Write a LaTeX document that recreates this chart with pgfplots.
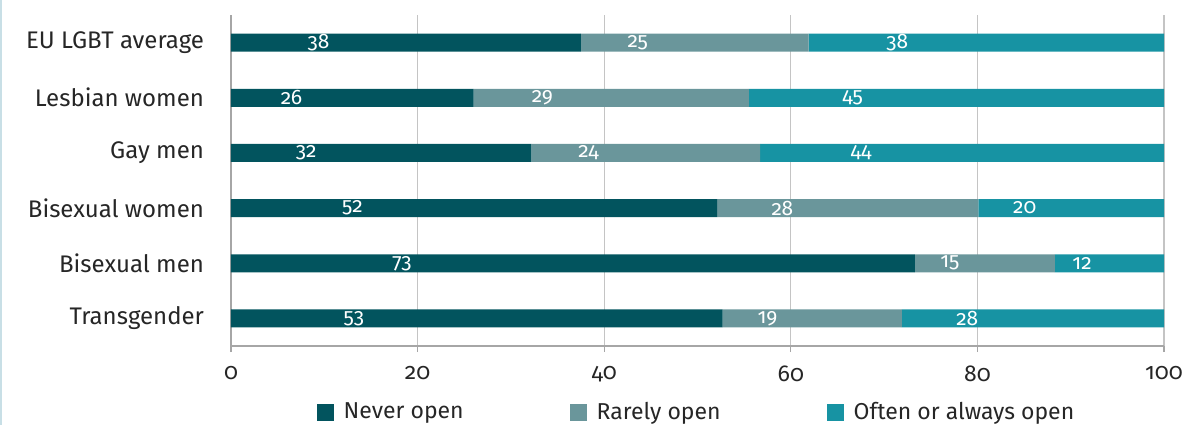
\documentclass[border=0pt]{standalone}
\usepackage{pgfplots}
\pgfplotsset{compat=1.18}
\usepackage{pgfplotstable}
\usepackage{fontspec}
\setmainfont{Fira Sans}[Numbers=OldStyle]
\definecolor{cNever}{HTML}{02545E}
\definecolor{cRare}{HTML}{6A969B}
\definecolor{cOften}{HTML}{1793A3}
\definecolor{cGrid}{HTML}{C4C4C4}
\definecolor{cAxis}{HTML}{A6A6A6}
\definecolor{cText}{HTML}{262626}
\definecolor{cBorder}{HTML}{C8DFE6}
\pgfplotstableread{
y n nl r rl o ol
0 37.5 38 24.4 25 38.1 38
1 26.0 26 29.5 29 44.5 45
2 32.2 32 24.5 24 43.3 44
3 52.1 52 28.0 28 19.9 20
4 73.3 73 15.0 15 11.7 12
5 52.7 53 19.2 19 28.1 28
}\data
\begin{document}
\begin{tikzpicture}
\useasboundingbox (0,0) rectangle (595.5pt,212.5pt);
\fill[cBorder] (0,0) rectangle (1.2pt,212.5pt);
\begin{axis}[
  at={(115.5pt,39.5pt)}, anchor=south west,
  width=466.5pt, height=165.5pt, scale only axis,
  xbar stacked, bar width=9pt,
  xmin=0, xmax=100, ymin=-0.5, ymax=5.5, y dir=reverse,
  axis lines*=left, axis line style={cAxis, line width=0.6pt},
  xtick={0,20,...,100}, xmajorgrids,
  grid style={cGrid, line width=0.6pt},
  tick align=outside, major tick length=3pt,
  xtick style={cAxis, line width=0.6pt},
  ytick={0,...,5},
  yticklabels={EU LGBT average, Lesbian women, Gay men, Bisexual women, Bisexual men, Transgender},
  ytick style={draw=none},
  extra y ticks={-0.5,0.5,...,5.5},
  extra y tick labels={},
  extra y tick style={major tick length=5pt, tick style={draw=cAxis, line width=0.6pt}},
  /pgf/number format/assume math mode=true,
  yticklabel style={font=\fontsize{12}{14}\selectfont, text=cText, xshift=-7pt},
  xticklabel style={font=\fontsize{11.5}{14}\selectfont, text=cText, yshift=-3.5pt},
  legend columns=3,
  legend style={draw=none, fill=none, at={(0.5,0)}, anchor=center, yshift=-33pt,
    font=\fontsize{11.5}{14}\selectfont, text=cText,
    /tikz/every odd column/.append style={column sep=3pt},
    /tikz/every even column/.append style={column sep=51pt}},
  legend image code/.code={\fill[#1] (0pt,-4.25pt) rectangle (8.5pt,4.25pt);},
  every node near coord/.append style={font=\fontsize{10.5}{12}\selectfont, text=white, anchor=center},
]
\addplot[fill=cNever, draw=none, point meta=explicit symbolic, nodes near coords,
  visualization depends on={\thisrow{n} \as \len},
  every node near coord/.append style={xshift={-\len*1.16625pt}}]
  table[x=n, y=y, meta=nl] {\data};
\addplot[fill=cRare, draw=none, point meta=explicit symbolic, nodes near coords,
  visualization depends on={\thisrow{r} \as \len},
  every node near coord/.append style={xshift={-\len*1.16625pt}}]
  table[x=r, y=y, meta=rl] {\data};
\addplot[fill=cOften, draw=none, point meta=explicit symbolic, nodes near coords,
  visualization depends on={\thisrow{o} \as \len},
  every node near coord/.append style={xshift={-\len*1.16625pt}}]
  table[x=o, y=y, meta=ol] {\data};
\legend{Never open, Rarely open, Often or always open}
\end{axis}
\end{tikzpicture}
\end{document}
